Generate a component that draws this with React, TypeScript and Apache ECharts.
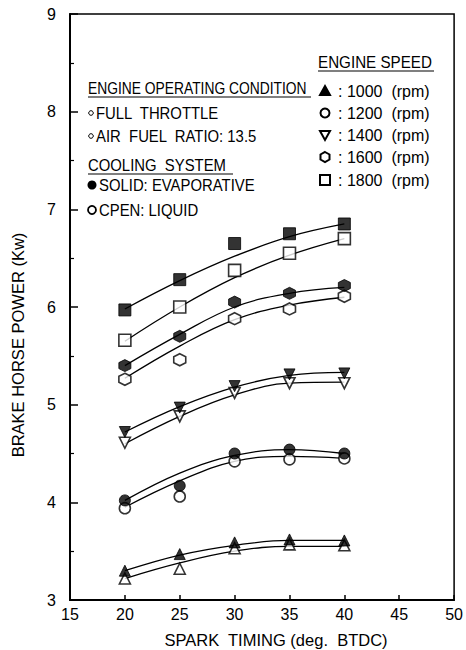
import React, { useEffect, useRef } from "react";
import * as echarts from "echarts";

const sparkTiming = [20, 25, 30, 35, 40];
const speedLabels = ["1000", "1200", "1400", "1600", "1800"];
const xTicks = [15, 20, 25, 30, 35, 40, 45, 50];
const yTicks = [3, 4, 5, 6, 7, 8, 9];

// measured points: solid = evaporative cooling, open = liquid cooling
const p1000Solid = [3.30, 3.47, 3.59, 3.62, 3.61];
const p1000Open = [3.22, 3.32, 3.53, 3.57, 3.56];
const p1200Solid = [4.02, 4.17, 4.50, 4.54, 4.50];
const p1200Open = [3.94, 4.06, 4.42, 4.44, 4.45];
const p1400Solid = [4.72, 4.97, 5.19, 5.31, 5.32];
const p1400Open = [4.61, 4.88, 5.12, 5.22, 5.22];
const p1600Solid = [5.40, 5.70, 6.05, 6.14, 6.22];
const p1600Open = [5.26, 5.46, 5.88, 5.98, 6.11];
const p1800Solid = [5.97, 6.28, 6.65, 6.75, 6.85];
const p1800Open = [5.66, 6.0, 6.375, 6.55, 6.7];

// fitted curves read at the same spark timings
const fit1000Solid = [3.30, 3.46, 3.56, 3.61, 3.61];
const fit1000Open = [3.22, 3.38, 3.50, 3.55, 3.55];
const fit1200Solid = [4.02, 4.30, 4.48, 4.54, 4.50];
const fit1200Open = [3.95, 4.22, 4.42, 4.47, 4.45];
const fit1400Solid = [4.72, 4.98, 5.18, 5.30, 5.33];
const fit1400Open = [4.60, 4.88, 5.10, 5.22, 5.23];
const fit1600Solid = [5.40, 5.72, 6.0, 6.14, 6.20];
const fit1600Open = [5.27, 5.60, 5.87, 6.02, 6.10];
const fit1800Solid = [5.98, 6.27, 6.52, 6.72, 6.85];
const fit1800Open = [5.65, 6.0, 6.30, 6.53, 6.70];

const DOWN_TRI = "path://M0,0L10,0L5,8.66Z";
const HEXAGON = "path://M5,0L9.33,2.5L9.33,7.5L5,10L0.67,7.5L0.67,2.5Z";

const FONT = '"Liberation Sans", Arial, sans-serif';

export default function App() {
  const ref = useRef<HTMLDivElement>(null);

  useEffect(() => {
    if (!ref.current) return;
    const chart = echarts.init(ref.current, undefined, { renderer: "svg" });

    const groups = [
      { symbol: "triangle", size: 11, solid: p1000Solid, open: p1000Open, fs: fit1000Solid, fo: fit1000Open },
      { symbol: "circle", size: 11, solid: p1200Solid, open: p1200Open, fs: fit1200Solid, fo: fit1200Open },
      { symbol: DOWN_TRI, size: 11, solid: p1400Solid, open: p1400Open, fs: fit1400Solid, fo: fit1400Open },
      { symbol: HEXAGON, size: 12, solid: p1600Solid, open: p1600Open, fs: fit1600Solid, fo: fit1600Open },
      { symbol: "rect", size: 12, solid: p1800Solid, open: p1800Open, fs: fit1800Solid, fo: fit1800Open },
    ];

    const pair = (vals: number[]) => sparkTiming.map((x, i) => [x, vals[i]]);
    const series: any[] = [];
    groups.forEach((g, gi) => {
      [g.fs, g.fo].forEach((fit, k) => {
        series.push({
          name: `${speedLabels[gi]} fit ${k}`,
          type: "line",
          data: pair(fit),
          smooth: 0.4,
          showSymbol: false,
          symbol: "none",
          lineStyle: { color: "#000", width: 1.3 },
          z: 2,
        });
      });
      series.push({
        name: `${speedLabels[gi]} solid`,
        type: "scatter",
        data: pair(g.solid),
        symbol: g.symbol,
        symbolSize: g.size,
        itemStyle: { color: "#000", borderColor: "#000", borderWidth: 1 },
        z: 4,
      });
      series.push({
        name: `${speedLabels[gi]} open`,
        type: "scatter",
        data: pair(g.open),
        symbol: g.symbol,
        symbolSize: g.size,
        itemStyle: { color: "#fff", borderColor: "#000", borderWidth: 1.6 },
        z: 3,
      });
    });

    const txt = (text: string, x: number, y: number, size = 16, sx = 0.93) => ({
      type: "text",
      x,
      y,
      scaleX: sx,
      style: {
        text,
        fill: "#000",
        font: `${size}px ${FONT}`,
        verticalAlign: "middle",
        align: "left",
      },
      z: 10,
    });
    const uline = (x1: number, x2: number, y: number) => ({
      type: "line",
      shape: { x1, y1: y, x2, y2: y },
      style: { stroke: "#000", lineWidth: 1.2 },
      z: 10,
    });

    const legendSyms = ["tri", "circ", "down", "hex", "rect"];
    const legendYs = [91, 113, 135, 157, 180];
    const legendMarks: any[] = [];
    legendSyms.forEach((s, i) => {
      const cx = 325;
      const cy = legendYs[i];
      const st = { stroke: "#000", lineWidth: 2, fill: "#fff" };
      if (s === "tri")
        legendMarks.push({ type: "polygon", shape: { points: [[cx - 5, cy + 4], [cx + 5, cy + 4], [cx, cy - 5]] }, style: { ...st, fill: "#000" }, z: 10 });
      else if (s === "circ")
        legendMarks.push({ type: "circle", shape: { cx, cy, r: 4.5 }, style: st, z: 10 });
      else if (s === "down")
        legendMarks.push({ type: "polygon", shape: { points: [[cx - 5, cy - 4], [cx + 5, cy - 4], [cx, cy + 5]] }, style: st, z: 10 });
      else if (s === "hex")
        legendMarks.push({
          type: "polygon",
          shape: { points: [[cx, cy - 5], [cx + 4.5, cy - 2.5], [cx + 4.5, cy + 2.5], [cx, cy + 5], [cx - 4.5, cy + 2.5], [cx - 4.5, cy - 2.5]] },
          style: st,
          z: 10,
        });
      else legendMarks.push({ type: "rect", shape: { x: cx - 5, y: cy - 5, width: 10, height: 10 }, style: st, z: 10 });
      legendMarks.push(txt(`: ${speedLabels[i]}  (rpm)`, 338, cy, 16, 1));
    });

    const graphic: any[] = [
      txt("ENGINE SPEED", 318, 62, 16, 0.95),
      uline(318, 434, 71),
      txt("ENGINE OPERATING CONDITION", 88, 88, 16, 0.865),
      uline(88, 311, 97),
      { type: "circle", shape: { cx: 91, cy: 113, r: 2.3 }, style: { stroke: "#000", lineWidth: 1, fill: "#fff" }, z: 10 },
      txt("FULL  THROTTLE", 96, 113),
      { type: "circle", shape: { cx: 91, cy: 136, r: 2.3 }, style: { stroke: "#000", lineWidth: 1, fill: "#fff" }, z: 10 },
      txt("AIR  FUEL  RATIO: 13.5", 96, 136),
      txt("COOLING  SYSTEM", 88, 165),
      uline(88, 233, 174),
      { type: "circle", shape: { cx: 92, cy: 185, r: 4.5 }, style: { fill: "#000" }, z: 10 },
      txt("SOLID: EVAPORATIVE", 99, 185),
      { type: "circle", shape: { cx: 92, cy: 210, r: 4 }, style: { stroke: "#000", lineWidth: 1.8, fill: "#fff" }, z: 10 },
      txt("CPEN: LIQUID", 99, 210),
      ...legendMarks,
      {
        type: "text",
        x: 18,
        y: 345,
        rotation: Math.PI / 2,
        style: { text: "BRAKE HORSE POWER (Kw)", fill: "#000", font: `16.5px ${FONT}`, align: "center", verticalAlign: "middle" },
        z: 10,
      },
      {
        type: "text",
        x: 276,
        y: 640,
        style: { text: "SPARK  TIMING (deg.  BTDC)", fill: "#000", font: `16.5px ${FONT}`, align: "center", verticalAlign: "middle" },
        z: 10,
      },
    ];

    chart.setOption({
      animation: false,
      backgroundColor: "#fff",
      grid: { left: 70, right: 7, top: 14, bottom: 50, show: true, borderColor: "#000", borderWidth: 1.5, backgroundColor: "transparent" },
      xAxis: {
        type: "value",
        min: xTicks[0],
        max: xTicks[xTicks.length - 1],
        interval: 5,
        axisLine: { show: true, lineStyle: { color: "#000", width: 2 } },
        axisTick: { show: true, inside: true, length: 5, lineStyle: { color: "#000", width: 1.5 } },
        axisLabel: { color: "#000", fontSize: 16, fontFamily: FONT, margin: 6 },
        splitLine: { show: false },
      },
      yAxis: {
        type: "value",
        min: yTicks[0],
        max: yTicks[yTicks.length - 1],
        interval: 1,
        axisLine: { show: true, lineStyle: { color: "#000", width: 2 } },
        axisTick: { show: true, inside: true, length: 8, lineStyle: { color: "#000", width: 1.5 } },
        minorTick: { show: true, splitNumber: 2, length: 4, lineStyle: { color: "#000", width: 1.2 } },
        axisLabel: { color: "#000", fontSize: 16, fontFamily: FONT, margin: 14 },
        splitLine: { show: false },
        minorSplitLine: { show: false },
      },
      series,
      graphic,
    });

    return () => chart.dispose();
  }, []);

  return (
    <div
      ref={ref}
      style={{ position: "absolute", left: 0, top: 0, width: 466, height: 650, background: "#fff" }}
    />
  );
}
